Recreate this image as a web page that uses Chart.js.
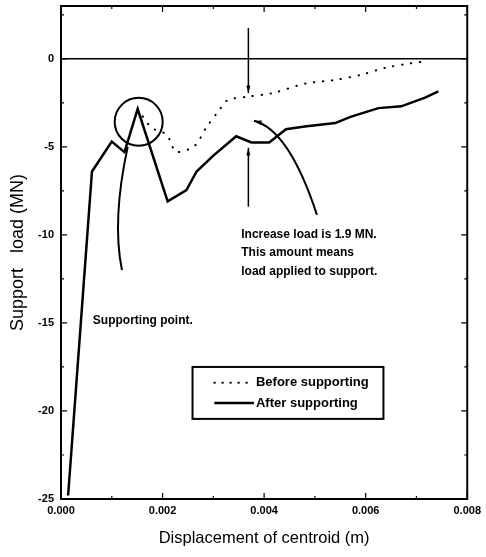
<!DOCTYPE html>
<html>
<head>
<meta charset="utf-8">
<script src="https://cdn.jsdelivr.net/npm/chart.js@4"></script>
<style>
  body { margin: 0; background: #fff; }
  canvas { display: block; }
</style>
</head>
<body>
<canvas id="chart" width="486" height="557"></canvas>
<script>
// Data
const afterX = [0.00014, 0.00061, 0.0010, 0.00125, 0.00151, 0.0021, 0.00247, 0.00267, 0.0030, 0.00345,
                0.00375, 0.0041, 0.00443, 0.0048, 0.0054, 0.0057, 0.00625, 0.0067, 0.00717, 0.00743];
const afterY = [-24.8, -6.4, -4.7, -5.3, -2.85, -8.1, -7.45, -6.4, -5.5, -4.4,
                -4.75, -4.75, -4.0, -3.85, -3.65, -3.3, -2.8, -2.7, -2.2, -1.85];

const beforeX = [0.00151, 0.00178, 0.00208, 0.00218, 0.00227, 0.00263, 0.00286, 0.00312, 0.00328, 0.00367,
                 0.00416, 0.00482, 0.0054, 0.00592, 0.0064, 0.0069, 0.00717];
const beforeY = [-2.85, -3.9, -4.3, -4.9, -5.3, -4.95, -3.9, -2.9, -2.35, -2.15,
                 -1.95, -1.4, -1.2, -0.9, -0.5, -0.25, -0.15];

const yTicks = [-25, -20, -15, -10, -5, 0];
const legendLabels = ['Before supporting', 'After supporting'];

function toPoints(xs, ys) {
    return xs.map((x, i) => ({ x: x, y: ys[i] }));
}

const boldFont = 'bold 12px "Liberation Sans", Arial, sans-serif';

// Frame, inward ticks, zero line, annotations and legend
const decorPlugin = {
    id: 'decor',
    afterDraw(chart) {
        const ctx = chart.ctx;
        const xs = chart.scales.x;
        const ys = chart.scales.y;
        const a = chart.chartArea;
        const px = (x, y) => [xs.getPixelForValue(x), ys.getPixelForValue(y)];

        ctx.save();
        ctx.strokeStyle = '#000';
        ctx.fillStyle = '#000';
        ctx.lineCap = 'butt';

        // frame
        ctx.lineWidth = 2;
        ctx.strokeRect(a.left, a.top, a.right - a.left, a.bottom - a.top);

        // zero line
        ctx.lineWidth = 1.5;
        ctx.beginPath();
        ctx.moveTo(a.left, ys.getPixelForValue(0));
        ctx.lineTo(a.right, ys.getPixelForValue(0));
        ctx.stroke();

        // x ticks (bottom and top)
        ctx.lineWidth = 1.2;
        for (let i = 0; i <= 8; i++) {
            const p = xs.getPixelForValue(i * 0.001);
            const len = i % 2 === 0 ? 6 : 3;
            ctx.beginPath();
            ctx.moveTo(p, a.bottom); ctx.lineTo(p, a.bottom - len);
            ctx.moveTo(p, a.top); ctx.lineTo(p, a.top + len);
            ctx.stroke();
        }
        // y ticks (left and right)
        for (let v = -25; v <= 2.5; v += 2.5) {
            const p = ys.getPixelForValue(v);
            const len = v % 5 === 0 ? 6 : 3;
            ctx.beginPath();
            ctx.moveTo(a.left, p); ctx.lineTo(a.left + len, p);
            ctx.moveTo(a.right, p); ctx.lineTo(a.right - len, p);
            ctx.stroke();
        }

        // circle round the supporting point
        ctx.lineWidth = 2;
        let c = px(0.00153, -3.58);
        ctx.beginPath();
        ctx.arc(c[0], c[1], 24, 0, Math.PI * 2);
        ctx.stroke();

        // curve from circle to label
        let s = px(0.001314, -5.0), k = px(0.0010, -9.15), e = px(0.0012, -12.0);
        ctx.beginPath();
        ctx.moveTo(s[0], s[1]);
        ctx.quadraticCurveTo(k[0], k[1], e[0], e[1]);
        ctx.stroke();

        // vertical arrows
        function arrow(x1, y1, x2, y2) {
            ctx.beginPath();
            ctx.moveTo(x1, y1); ctx.lineTo(x2, y2);
            ctx.stroke();
            const ang = Math.atan2(y2 - y1, x2 - x1);
            ctx.beginPath();
            ctx.moveTo(x2, y2);
            ctx.lineTo(x2 - 8 * Math.cos(ang - 0.25), y2 - 8 * Math.sin(ang - 0.25));
            ctx.lineTo(x2 - 8 * Math.cos(ang + 0.25), y2 - 8 * Math.sin(ang + 0.25));
            ctx.closePath();
            ctx.fill();
        }
        ctx.lineWidth = 1.5;
        let t1 = px(0.00369, 1.75), t2 = px(0.00369, -1.95);
        arrow(t1[0], t1[1], t2[0], t2[1]);
        let b1 = px(0.00369, -8.4), b2 = px(0.00369, -5.05);
        arrow(b1[0], b1[1], b2[0], b2[1]);

        // curved arrow from text to the solid line
        ctx.lineWidth = 2;
        s = px(0.00504, -8.86); k = px(0.00449, -4.03); e = px(0.0038, -3.52);
        ctx.beginPath();
        ctx.moveTo(s[0], s[1]);
        ctx.quadraticCurveTo(k[0], k[1], e[0], e[1]);
        ctx.stroke();
        const ang = Math.atan2(e[1] - k[1], e[0] - k[0]);
        ctx.beginPath();
        ctx.moveTo(e[0], e[1]);
        ctx.lineTo(e[0] - 8 * Math.cos(ang - 0.3), e[1] - 8 * Math.sin(ang - 0.3));
        ctx.lineTo(e[0] - 8 * Math.cos(ang + 0.3), e[1] - 8 * Math.sin(ang + 0.3));
        ctx.closePath();
        ctx.fill();

        // annotation texts
        ctx.font = boldFont;
        ctx.textBaseline = 'middle';
        ctx.textAlign = 'left';
        let p = px(0.00355, -10.0);
        ctx.fillText('Increase load is 1.9 MN.', p[0], p[1]);
        p = px(0.00355, -11.02);
        ctx.fillText('This amount means', p[0], p[1]);
        p = px(0.00355, -12.1);
        ctx.fillText('load applied to support.', p[0], p[1]);
        p = px(0.000627, -14.9);
        ctx.fillText('Supporting point.', p[0], p[1]);

        // legend box
        const l1 = px(0.00259, -17.5), l2 = px(0.00635, -20.45);
        ctx.lineWidth = 2;
        ctx.strokeRect(l1[0], l1[1], l2[0] - l1[0], l2[1] - l1[1]);
        const rowY = [px(0, -18.4)[1], px(0, -19.55)[1]];
        const sx1 = px(0.00302, 0)[0], sx2 = px(0.0038, 0)[0];
        // dotted sample
        ctx.lineWidth = 2;
        ctx.lineCap = 'round';
        ctx.setLineDash([0.5, 7.5]);
        ctx.beginPath();
        ctx.moveTo(sx1, rowY[0]); ctx.lineTo(sx2, rowY[0]);
        ctx.stroke();
        ctx.setLineDash([]);
        ctx.lineCap = 'butt';
        ctx.lineWidth = 2.5;
        ctx.beginPath();
        ctx.moveTo(sx1, rowY[1]); ctx.lineTo(sx2, rowY[1]);
        ctx.stroke();
        ctx.font = 'bold 13px "Liberation Sans", Arial, sans-serif';
        ctx.fillText(legendLabels[0], sx2 + 2, rowY[0]);
        ctx.fillText(legendLabels[1], sx2 + 2, rowY[1]);

        ctx.restore();
    }
};

new Chart(document.getElementById('chart'), {
    type: 'line',
    data: {
        datasets: [
            {
                label: legendLabels[1],
                data: toPoints(afterX, afterY),
                borderColor: '#000',
                borderWidth: 2.5,
                pointRadius: 0,
                tension: 0,
                order: 1
            },
            {
                label: legendLabels[0],
                data: toPoints(beforeX, beforeY),
                borderColor: '#000',
                borderWidth: 2,
                borderDash: [0.5, 8.5],
                borderCapStyle: 'round',
                pointRadius: 0,
                tension: 0.3,
                order: 2
            }
        ]
    },
    options: {
        responsive: false,
        animation: false,
        layout: { padding: { left: 0, right: 17, top: 0, bottom: 0 } },
        plugins: {
            legend: { display: false },
            tooltip: { enabled: false }
        },
        scales: {
            x: {
                type: 'linear',
                min: 0,
                max: 0.008,
                grid: { display: false, drawTicks: false },
                border: { display: false },
                ticks: {
                    stepSize: 0.002,
                    padding: 5,
                    color: '#000',
                    font: { family: '"Liberation Sans", Arial, sans-serif', size: 11, weight: 'bold' },
                    maxRotation: 0,
                    callback: v => v.toFixed(3)
                },
                title: {
                    display: true,
                    text: 'Displacement of centroid (m)',
                    color: '#000',
                    font: { family: '"Liberation Sans", Arial, sans-serif', size: 16.5 },
                    padding: { top: 4, bottom: 9 }
                },
                afterFit: scale => { scale.height = 58; }
            },
            y: {
                type: 'linear',
                min: -25,
                max: 3,
                grid: { display: false, drawTicks: false },
                border: { display: false },
                afterBuildTicks: scale => { scale.ticks = yTicks.map(v => ({ value: v })); },
                ticks: {
                    padding: 7,
                    color: '#000',
                    font: { family: '"Liberation Sans", Arial, sans-serif', size: 11, weight: 'bold' }
                },
                title: {
                    display: true,
                    text: 'Support   load (MN)',
                    color: '#000',
                    font: { family: '"Liberation Sans", Arial, sans-serif', size: 18 },
                    padding: { top: 7, bottom: 0 }
                },
                afterFit: scale => {
                    scale.width = 61;
                    scale.paddingTop = 6;
                    scale.paddingBottom = 0;
                }
            }
        }
    },
    plugins: [decorPlugin]
});
</script>
</body>
</html>
